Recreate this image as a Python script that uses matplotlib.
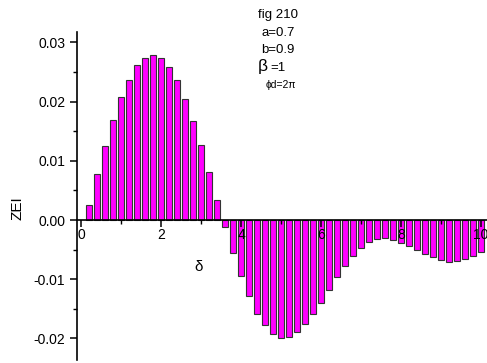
import numpy as np
import matplotlib
matplotlib.use("Agg")
import matplotlib.pyplot as plt
from matplotlib.ticker import MultipleLocator, FormatStrFormatter

plt.rcParams['font.family'] = ['Liberation Sans', 'DejaVu Sans']
plt.rcParams['axes.unicode_minus'] = False

# bar positions (delta) and ZEI values
delta = [round(0.2 * k, 1) for k in range(1, 51)]
zei = [0.0025, 0.0077, 0.0125, 0.0169, 0.0207, 0.0237, 0.0261, 0.0274, 0.0279, 0.0274,
       0.0259, 0.0236, 0.0204, 0.0167, 0.0126, 0.0081, 0.0034,
       -0.0011, -0.0056, -0.0095, -0.0129, -0.0158, -0.0178, -0.0193, -0.0199, -0.0198,
       -0.0189, -0.0176, -0.0159, -0.0140, -0.0118, -0.0097, -0.0078, -0.0060, -0.0047,
       -0.0037, -0.0032, -0.0030, -0.0033, -0.0038, -0.0044, -0.0051, -0.0057, -0.0063,
       -0.0068, -0.0071, -0.0070, -0.0065, -0.0061, -0.0054]

xticks = [0, 2, 4, 6, 8, 10]
yticks = [-0.02, -0.01, 0.00, 0.01, 0.02, 0.03]

W, H = 487, 363
fig = plt.figure(figsize=(W / 100, H / 100), dpi=100)
ax = fig.add_axes([77 / W, 3 / H, 410 / W, 328 / H])

ax.bar(delta, zei, width=0.15, color='#ff00ff', edgecolor='#333333', linewidth=0.8, zorder=2)
ax.set_axisbelow(False)  # tick labels on top of the bars, like the original

ax.set_xlim(-0.1, 10.15)
ax.set_ylim(-0.02364, 0.03175)

ax.spines['top'].set_visible(False)
ax.spines['right'].set_visible(False)
ax.spines['bottom'].set_position(('data', 0))
ax.spines['left'].set_linewidth(1.2)
ax.spines['bottom'].set_linewidth(1.2)
ax.spines['bottom'].set_zorder(3)

ax.set_xticks(xticks)
ax.set_yticks(yticks)
ax.xaxis.set_minor_locator(MultipleLocator(1))
ax.yaxis.set_minor_locator(MultipleLocator(0.005))
ax.yaxis.set_major_formatter(FormatStrFormatter('%.2f'))
ax.tick_params(axis='both', which='major', direction='out', length=5, width=1.1, labelsize=10)
ax.tick_params(axis='both', which='minor', direction='out', length=3, width=1.0)
ax.tick_params(axis='x', pad=1)

fig.text(199 / W, 1 - 267 / H, 'δ', fontsize=11, ha='center', va='center')
fig.text(17 / W, 1 - 208 / H, 'ZEI', rotation=90, fontsize=11, ha='center', va='center')

fig.text(278 / W, 1 - 15 / H, 'fig 210', fontsize=9.5, ha='center', va='center')
fig.text(278 / W, 1 - 33 / H, 'a=0.7', fontsize=9.5, ha='center', va='center')
fig.text(278 / W, 1 - 50 / H, 'b=0.9', fontsize=9.5, ha='center', va='center')
fig.text(258 / W, 1 - 67 / H, 'β', fontsize=12.5, ha='left', va='center')
fig.text(270 / W, 1 - 68 / H, '=1', fontsize=9.5, ha='left', va='center')
fig.text(266 / W, 1 - 85 / H, 'ϕd=2π', fontsize=7.5, ha='left', va='center')

fig.savefig('out.png', dpi=100)
